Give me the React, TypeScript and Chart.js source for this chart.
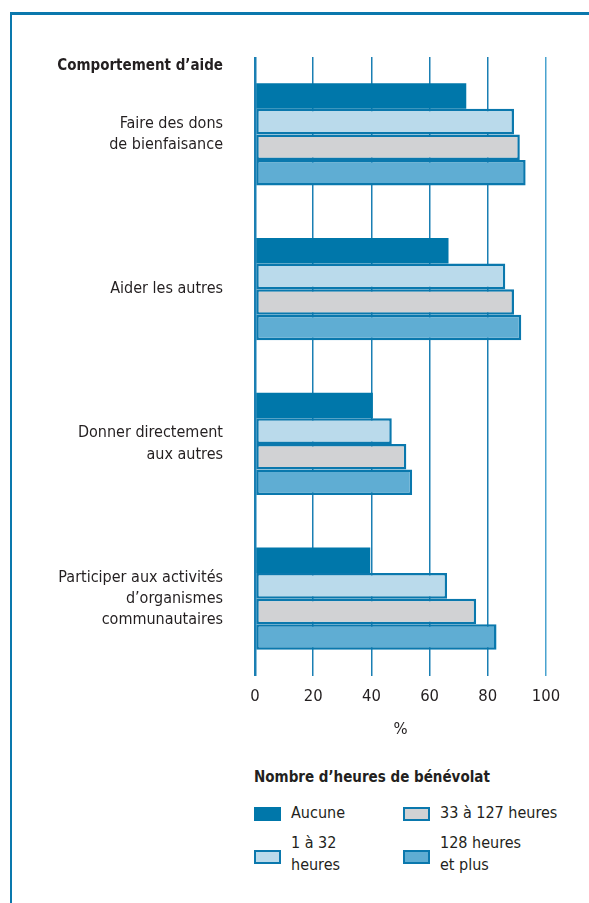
import React, { useEffect, useRef } from "react";
import { Chart, registerables } from "chart.js";

Chart.register(...registerables);

const FONT = '"Liberation Sans Narrow", "DejaVu Sans Condensed", "Roboto", sans-serif';
const TEXT = "#231f20";
const EDGE = "#0a78ad";

const categories: string[][] = [
  ["Faire des dons", "de bienfaisance"],
  ["Aider les autres"],
  ["Donner directement", "aux autres"],
  ["Participer aux activités", "d’organismes", "communautaires"],
];
const seriesLabels: string[][] = [["Aucune"], ["1 à 32", "heures"], ["33 à 127 heures"], ["128 heures", "et plus"]];
const aucune = [72.6, 66.5, 40.5, 39.6];
const h1to32 = [89, 86, 47, 66];
const h33to127 = [91, 89, 52, 76];
const h128plus = [93, 91.5, 54, 83];
const seriesValues = [aucune, h1to32, h33to127, h128plus];
const seriesColors = ["#0077aa", "#badaeb", "#d1d2d4", "#5fadd3"];
const seriesBorders = [0, 2.5, 2.5, 2.5];
const xTicks = [0, 20, 40, 60, 80, 100];
const yTitle = "Comportement d’aide";
const xTitle = "%";
const legendTitle = "Nombre d’heures de bénévolat";

export default function App() {
  const ref = useRef<HTMLCanvasElement>(null);
  useEffect(() => {
    if (!ref.current) return;
    const chart = new Chart(ref.current, {
      type: "bar",
      data: {
        labels: categories,
        datasets: seriesValues.map((vals, i) => ({
          label: seriesLabels[i].join(" "),
          data: vals,
          backgroundColor: seriesColors[i],
          borderColor: EDGE,
          borderWidth: seriesBorders[i],
          borderSkipped: false,
          barPercentage: 1,
          categoryPercentage: 0.66,
        })),
      },
      options: {
        indexAxis: "y",
        animation: false,
        responsive: false,
        maintainAspectRatio: false,
        layout: { padding: { top: 57, right: 43, bottom: 0, left: 0 } },
        plugins: { legend: { display: false }, tooltip: { enabled: false } },
        scales: {
          x: {
            min: 0,
            max: 100,
            afterBuildTicks: (s: any) => {
              s.ticks = xTicks.map((v) => ({ value: v }));
            },
            afterFit: (s: any) => {
              s.height = 84;
            },
            border: { display: false },
            grid: {
              drawTicks: false,
              color: (c: any) => (c.tick && c.tick.value === 100 ? "#4aa3cf" : "#1a7fb3"),
              lineWidth: (c: any) => (c.tick && c.tick.value === 0 ? 2.5 : 1.5),
            },
            ticks: { padding: 11, color: TEXT, font: { family: FONT, size: 16.5 } },
            title: {
              display: true,
              text: xTitle,
              color: TEXT,
              font: { family: FONT, size: 16.5 },
              padding: { top: 0, bottom: 20 },
            },
          },
          y: {
            afterFit: (s: any) => {
              s.width = 255;
              s.paddingTop = 0;
              s.paddingBottom = 0;
            },
            border: { display: false },
            grid: { display: false, drawTicks: false },
            ticks: {
              padding: 32,
              color: TEXT,
              font: { family: FONT, size: 16, lineHeight: 1.33 },
            },
          },
        },
      },
    });
    return () => chart.destroy();
  }, []);

  const swatchPos = [
    { x: 254, y: 807 },
    { x: 254, y: 850 },
    { x: 403, y: 807 },
    { x: 403, y: 850 },
  ];
  const textPos = [
    { x: 291, y: 813 },
    { x: 291, y: 854 },
    { x: 440, y: 813 },
    { x: 440, y: 854 },
  ];

  return (
    <div style={{ position: "absolute", left: 0, top: 0, width: 589, height: 903, overflow: "hidden", background: "#fff", fontFamily: FONT, color: TEXT }}>
      <div
        style={{
          position: "absolute",
          left: 10,
          top: 12,
          width: 640,
          height: 960,
          borderTop: `3px solid ${EDGE}`,
          borderLeft: `2.5px solid ${EDGE}`,
          boxSizing: "border-box",
        }}
      />
      <canvas ref={ref} width={589} height={760} style={{ position: "absolute", left: 0, top: 0, width: 589, height: 760 }} />
      <div style={{ position: "absolute", right: 589 - 223, top: 65, transform: "translateY(-50%)", fontWeight: "bold", fontSize: 15, whiteSpace: "nowrap" }}>
        {yTitle}
      </div>
      <div style={{ position: "absolute", left: 254, top: 777, transform: "translateY(-50%)", fontWeight: "bold", fontSize: 15, whiteSpace: "nowrap" }}>
        {legendTitle}
      </div>
      {seriesLabels.map((lab, i) => (
        <React.Fragment key={i}>
          <div
            style={{
              position: "absolute",
              left: swatchPos[i].x,
              top: swatchPos[i].y,
              width: 27,
              height: 14,
              boxSizing: "border-box",
              background: seriesColors[i],
              border: seriesBorders[i] ? `2.5px solid ${EDGE}` : "none",
            }}
          />
          <div
            style={{
              position: "absolute",
              left: textPos[i].x,
              top: textPos[i].y,
              transform: "translateY(-50%)",
              fontSize: 16,
              lineHeight: "22px",
              whiteSpace: "nowrap",
            }}
          >
            {lab.map((l, j) => (
              <div key={j}>{l}</div>
            ))}
          </div>
        </React.Fragment>
      ))}
    </div>
  );
}
